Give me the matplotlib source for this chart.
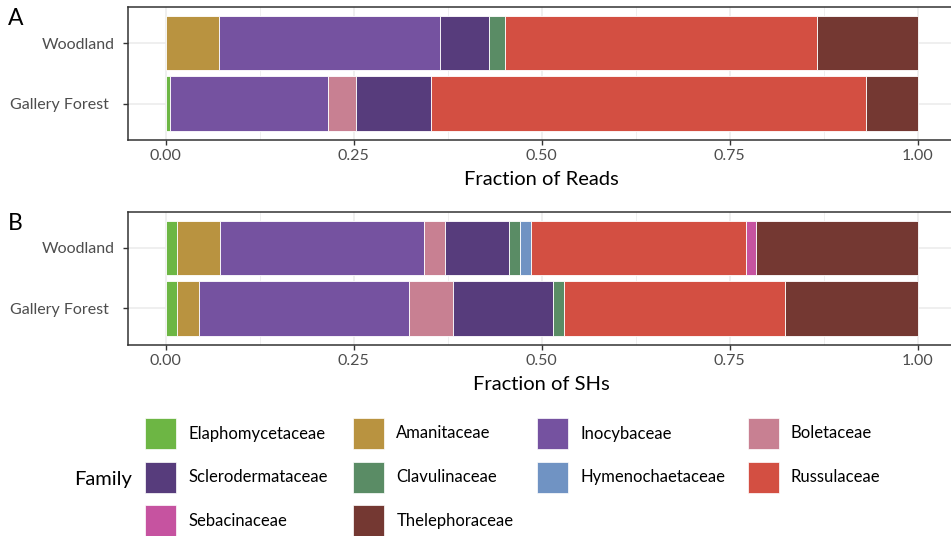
import numpy as np
import matplotlib
matplotlib.use('Agg')
import matplotlib.pyplot as plt
from matplotlib.patches import Rectangle
from matplotlib.transforms import ScaledTranslation

plt.rcParams['font.family'] = ['Lato', 'DejaVu Sans']

families = ['Elaphomycetaceae', 'Amanitaceae', 'Inocybaceae', 'Boletaceae',
            'Sclerodermataceae', 'Clavulinaceae', 'Hymenochaetaceae', 'Russulaceae',
            'Sebacinaceae', 'Thelephoraceae']
colors = ['#6db644', '#b99340', '#7552a0', '#c88092',
          '#573c7c', '#5a8c65', '#7093c3', '#d34f42',
          '#c653a0', '#743832']
sites = ['Gallery Forest', 'Woodland']

# fraction of reads per family (same order as families)
reads_gallery = [0.005, 0.0, 0.2105, 0.0373, 0.0998, 0.0, 0.0, 0.5794, 0.0, 0.068]
reads_woodland = [0.0, 0.071, 0.2935, 0.0, 0.0655, 0.021, 0.0, 0.4147, 0.0, 0.1343]

# number of SHs per family
shs_gallery = [1, 2, 19, 4, 9, 1, 0, 20, 0, 12]
shs_woodland = [1, 4, 19, 2, 6, 1, 1, 20, 1, 15]

W, H = 951, 536
fig = plt.figure(figsize=(W / 100, H / 100), dpi=100)


def panel(top, bottom, data, xlabel, letter, letter_y):
    ax = fig.add_axes([128.3 / W, 1 - bottom / H, 826.8 / W, (bottom - top) / H])
    ax.set_xlim(-0.05, 1.05)
    ax.set_ylim(0.4, 2.6)
    ax.set_axisbelow(True)
    ax.set_xticks([0, 0.25, 0.5, 0.75, 1.0])
    ax.set_xticks([0.125, 0.375, 0.625, 0.875], minor=True)
    ax.set_xticklabels(['0.00', '0.25', '0.50', '0.75', '1.00'])
    ax.set_yticks([1, 2])
    ax.set_yticklabels(sites)
    ax.grid(which='major', color='#ebebeb', linewidth=1.1)
    ax.grid(which='minor', axis='x', color='#ebebeb', linewidth=0.55)
    ax.tick_params(which='minor', length=0)
    ax.tick_params(which='major', length=3.5, width=1.0, color='#333333',
                   labelcolor='#4d4d4d', labelsize=11.5, pad=3)
    ax.tick_params(axis='y', pad=6)
    # the longer site name sits a little further left
    shift = ScaledTranslation(-6 / 100, 0, fig.dpi_scale_trans)
    lbl = ax.get_yticklabels()[0]
    lbl.set_transform(lbl.get_transform() + shift)
    for s in ax.spines.values():
        s.set_color('#333333')
        s.set_linewidth(1.1)

    for yi, vals in enumerate(data):
        vals = np.asarray(vals, dtype=float)
        frac = vals / vals.sum()
        left = 0.0
        for f, c in zip(frac, colors):
            if f > 0:
                ax.barh(yi + 1, f, left=left, height=0.9, color=c,
                        edgecolor='white', linewidth=0.6)
            left += f
    ax.set_xlabel(xlabel, fontsize=14.5, labelpad=6)
    fig.text(8 / W, 1 - letter_y / H, letter, fontsize=16.5, ha='left', va='baseline')
    return ax


panel(7, 139.7, [reads_gallery, reads_woodland], 'Fraction of Reads', 'A', 25)
panel(211.7, 344.7, [shs_gallery, shs_woodland], 'Fraction of SHs', 'B', 229.5)

# legend, filled row by row
fig.text(74 / W, 1 - 479 / H, 'Family', fontsize=14.5, ha='left', va='center')
col_x = [145.3, 353.3, 537.0, 748.0]
row_y = [418.0, 461.7, 505.4]
key = 31
for i, (name, c) in enumerate(zip(families, colors)):
    r, k = divmod(i, 4)
    x0, y0 = col_x[k], row_y[r]
    fig.add_artist(Rectangle((x0 / W, 1 - (y0 + key) / H), key / W, key / H,
                             transform=fig.transFigure, facecolor=c,
                             edgecolor='white', linewidth=0.5))
    fig.text((x0 + 43) / W, 1 - (y0 + key / 2) / H, name, fontsize=12,
             ha='left', va='center')

fig.savefig('out.png', dpi=100)
